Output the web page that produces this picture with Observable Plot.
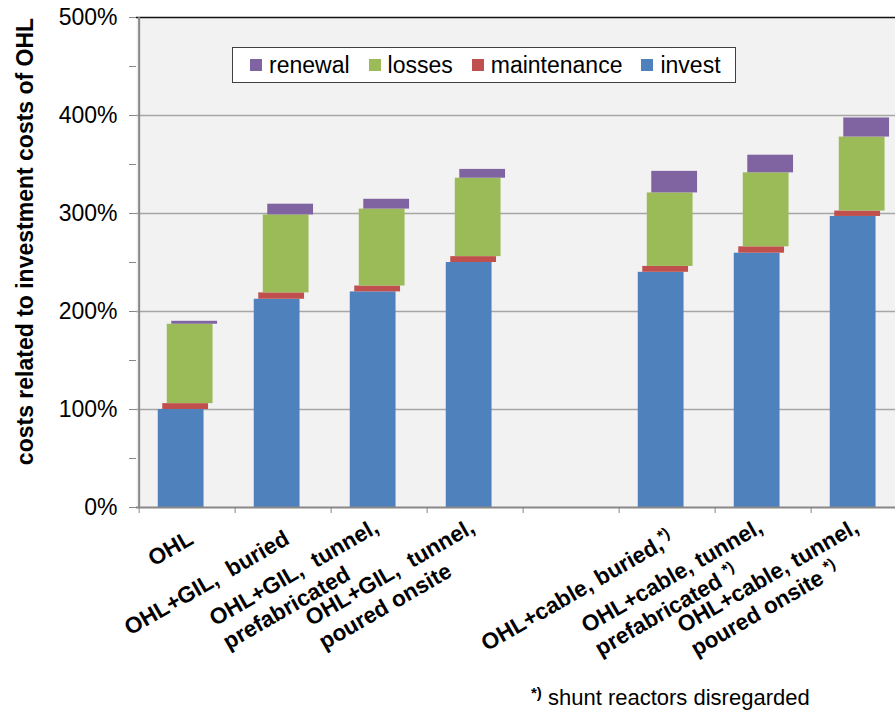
<!DOCTYPE html>
<html><head><meta charset="utf-8">
<script src="https://cdn.jsdelivr.net/npm/d3@7"></script>
<script src="https://cdn.jsdelivr.net/npm/@observablehq/plot@0.6"></script>
<style>
body{margin:0;background:#fff;font-family:"Liberation Sans",Arial,sans-serif;}
#wrap{position:relative;width:895px;height:714px;overflow:hidden;}
#legend{position:absolute;left:232px;top:47px;width:504px;height:36px;background:#fff;border:1px solid #404040;display:flex;align-items:center;padding-left:17px;box-sizing:border-box;font-size:23px;color:#000;}
.item{display:flex;align-items:center;margin-right:19px;white-space:nowrap;}
.sw{width:12px;height:12px;margin-right:7px;}
#note{position:absolute;left:531px;top:684px;font-size:22px;color:#000;white-space:nowrap;}
#note b{font-size:15px;vertical-align:7px;}
</style></head><body><div id="wrap"></div>
<script>
const categories = [
  "OHL",
  "OHL+GIL,  buried",
  "OHL+GIL,  tunnel,\nprefabricated",
  "OHL+GIL,  tunnel,\npoured onsite",
  "",
  "OHL+cable, buried,*)",
  "OHL+cable, tunnel,\nprefabricated *)",
  "OHL+cable, tunnel,\npoured onsite *)"
];
const invest      = [100, 212.5, 220, 250, null, 240, 259.5, 297];
const maintenance = [6,   6.5,   6,   6,   null, 6,   6.5,   5.5];
const losses      = [81,  79.5,  78.5, 80, null, 75,  75.5,  75.5];
const renewal     = [3,   11,    10,  9,   null, 22,  18,    19.5];
const seriesNames = ["invest", "maintenance", "losses", "renewal"];
const seriesColors = ["#4f81bd", "#c0504d", "#9bbb59", "#8064a2"];
const legendOrder = ["renewal", "losses", "maintenance", "invest"];
const yTicks = [0, 100, 200, 300, 400, 500];
const yMinorTicks = [50, 150, 250, 350, 450];
const yTitle = "costs related to investment costs of OHL";
const noteMark = "*)";
const noteText = "shunt reactors disregarded";

const W = 895, H = 680;
const xRange = [136.3, 910];
const step = (xRange[1] - xRange[0]) / categories.length;
const barWidth = 46.5;
const inset = (step - barWidth) / 2;
const shift = 4.5;

const values = {invest, maintenance, losses, renewal};
const rows = [];
categories.forEach((c, i) => {
  if (invest[i] == null) return;
  let base = 0;
  seriesNames.forEach((s) => {
    const v = values[s][i];
    rows.push({cat: c, series: s, y1: base, y2: base + v});
    base += v;
  });
});

const chart = Plot.plot({
  width: W, height: H,
  marginLeft: 136, marginRight: 0, marginTop: 17, marginBottom: 173,
  style: {fontFamily: "Liberation Sans, Arial, sans-serif", background: "white", overflow: "visible", color: "#000"},
  x: {domain: categories, range: xRange, padding: 0},
  y: {domain: [0, 500]},
  marks: [
    Plot.frame({fill: "#f2f2f2", stroke: "none"}),
    Plot.ruleY(yTicks.slice(1, -1), {stroke: "#a6a6a6", strokeWidth: 1.5}),
    ...seriesNames.map((s, k) => Plot.barY(rows.filter(r => r.series === s), {
      x: "cat", y1: "y1", y2: "y2", fill: seriesColors[k],
      insetLeft: inset, insetRight: inset, dx: (k - 1.5) * shift + 0.4
    })),
    Plot.ruleY([500], {stroke: "#111", strokeWidth: 1.5}),
    Plot.ruleY([0], {stroke: "#888", strokeWidth: 2}),
    Plot.ruleX([categories[0]], {dx: -step / 2, y1: 0, y2: 500, stroke: "#888", strokeWidth: 2}),
    Plot.axisY({ticks: yTicks, tickFormat: d => d + "%", tickSize: 7, tickPadding: 12, fontSize: 23, stroke: "#888", label: null}),
    Plot.axisY({ticks: yMinorTicks, tickFormat: () => "", tickSize: 7, stroke: "#888", label: null}),
    Plot.axisX({tickSize: 6, tickFormat: () => "", dx: -step / 2, stroke: "#888", label: null}),
    Plot.axisX({tickSize: 0, tickPadding: 28, tickRotate: -30, dx: 3, fontSize: 22.5, fontWeight: "bold", lineHeight: 1.2, label: null}),
    Plot.text([yTitle], {frameAnchor: "left", textAnchor: "middle", dx: -111, dy: -21, rotate: -90, fontSize: 23, fontWeight: "bold"})
  ]
});

const wrap = document.getElementById("wrap");
wrap.appendChild(chart);

// superscript "*)" and left-align multi-line tick labels
const NS = "http://www.w3.org/2000/svg";
function supify(el) {
  const s = el.textContent;
  const idx = s.indexOf("*)");
  if (idx < 0) return;
  el.textContent = s.slice(0, idx);
  const t = document.createElementNS(NS, "tspan");
  t.setAttribute("baseline-shift", "super");
  t.setAttribute("font-size", "70%");
  t.textContent = "*)";
  el.appendChild(t);
}
chart.querySelectorAll('g[aria-label="x-axis tick label"] text').forEach(t => {
  const spans = Array.from(t.children).filter(n => n.tagName === "tspan");
  if (spans.length) {
    spans.forEach(supify);
    const L = Math.max(...spans.map(s => s.getComputedTextLength()));
    t.setAttribute("text-anchor", "start");
    spans.forEach(s => s.setAttribute("x", -L));
  } else {
    supify(t);
  }
});

// legend
const legend = document.createElement("div");
legend.id = "legend";
legendOrder.forEach(name => {
  const item = document.createElement("div");
  item.className = "item";
  const sw = document.createElement("div");
  sw.className = "sw";
  sw.style.background = seriesColors[seriesNames.indexOf(name)];
  const lab = document.createElement("span");
  lab.textContent = name;
  item.appendChild(sw); item.appendChild(lab);
  legend.appendChild(item);
});
wrap.appendChild(legend);

const note = document.createElement("div");
note.id = "note";
const b = document.createElement("b");
b.textContent = noteMark;
note.appendChild(b);
note.appendChild(document.createTextNode(" " + noteText));
wrap.appendChild(note);
</script></body></html>
